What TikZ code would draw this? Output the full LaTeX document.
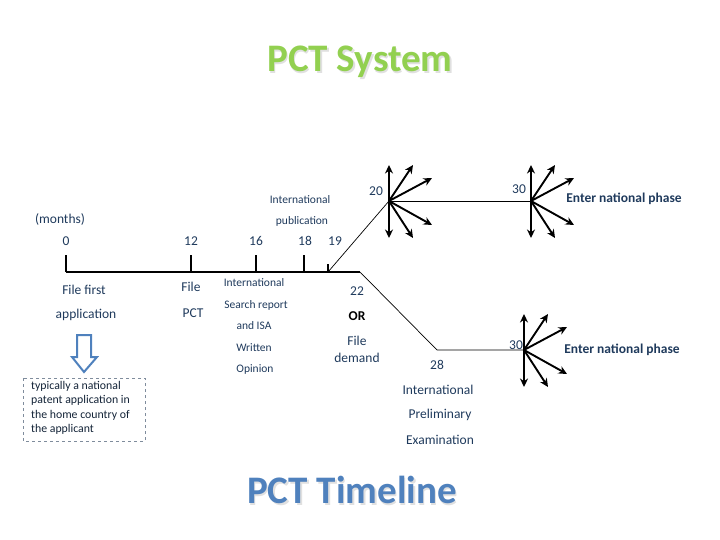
\documentclass[tikz,border=0pt]{standalone}
\usepackage{fontspec}
\setmainfont{Carlito}
\usetikzlibrary{arrows.meta}
\definecolor{txtblue}{HTML}{1F3A5C}
\definecolor{titlegreen}{HTML}{92D050}
\definecolor{linkblue}{HTML}{4F81BD}
\definecolor{boxgray}{HTML}{7F8C9C}
\begin{document}
\begin{tikzpicture}
    [
    x=1pt, y=-1pt
    , lbl/.style = {text=txtblue,inner sep=0pt,font=\fontsize{13.5}{15}\selectfont}
    , small/.style = {text=txtblue,inner sep=0pt,font=\fontsize{11.5}{13}\selectfont}
    , big/.style = {inner sep=0pt,font=\fontsize{39}{41}\selectfont\bfseries}
    , hubarrow/.style = {line width=1.9pt,-{Stealth[length=8.5pt,width=8pt]}}
    , axis/.style = {line width=1.3pt}
    , thin/.style = {line width=0.7pt}
    ]
\useasboundingbox (0,0) rectangle (720,540);

% titles
\node[big,text=black!12] at (361.5,63.5) {PCT System};
\node[big,text=titlegreen] (title) at (360,62) {PCT System};
\node[big,text=black!12] at (353.5,491.5) {PCT Timeline};
\node[big,text=linkblue] (subtitle) at (352,490) {PCT Timeline};

% time axis
\coordinate (t0) at (66,272);
\coordinate (t12) at (191,272);
\coordinate (t16) at (256,272);
\coordinate (t18) at (304,272);
\coordinate (t19) at (328,272);
\coordinate (tend) at (360,272);
\coordinate (bend) at (437,350);
\coordinate (hubA) at (389,201);
\coordinate (hubB) at (531,201);
\coordinate (hubC) at (524,350);

\draw[axis] (t0) -- (tend);
\foreach \t in {t0,t12,t16,t18} \draw[axis] (\t) -- ++(0,-17);
\draw[axis] (t19) -- ++(0,-8);
\draw[thin] (t19) -- (hubA);
\draw[thin] (hubA) -- (hubB);
\draw[thin] (tend) -- (bend) -- (hubC);

% national phase entries
\foreach \h in {hubA,hubB,hubC}
  \foreach \dx/\dy in {0/-36,24/-36,43/-23,43/24,24/37,0/37}
    \draw[hubarrow] (\h) -- ++(\dx,\dy);

\node[lbl] (months) at (60,219) {(months)};
\node[lbl] (m0) at (66,241) {0};
\node[lbl] (m12) at (191,241) {12};
\node[lbl] (m16) at (256,241) {16};
\node[lbl] (m18) at (305,241) {18};
\node[lbl] (m19) at (335,241) {19};
\node[lbl] (m20) at (376,191) {20};
\node[lbl] (m30a) at (519,189) {30};
\node[lbl] (m30b) at (516,345) {30};
\node[lbl] (m22) at (357,291) {22};
\node[lbl] (m28) at (437,365) {28};

\node[small] (pub1) at (300,200) {International};
\node[small] (pub2) at (302,221) {publication};

\node[lbl,font=\fontsize{13.5}{15}\selectfont\bfseries] (natA) at (624,199) {Enter national phase};
\node[lbl,font=\fontsize{13.5}{15}\selectfont\bfseries] (natC) at (622,350) {Enter national phase};

\node[lbl] (first1) at (84,290) {File first};
\node[lbl] (first2) at (86,315) {application};
\node[lbl] (pct1) at (191,287) {File};
\node[lbl] (pct2) at (193,313) {PCT};
\node[small] (isr1) at (254,283) {International};
\node[small] (isr2) at (256,305) {Search report};
\node[small] (isr3) at (254,326) {and ISA};
\node[small] (isr4) at (254,348) {Written};
\node[small] (isr5) at (255,369) {Opinion};
\node[lbl,text=black,font=\fontsize{13.5}{15}\selectfont\bfseries] (or) at (357,316) {OR};
\node[lbl] (dem1) at (357,341) {File};
\node[lbl] (dem2) at (357,358) {demand};
\node[lbl] (ipe1) at (438,390) {International};
\node[lbl] (ipe2) at (440,415) {Preliminary};
\node[lbl] (ipe3) at (440,440) {Examination};

% hollow arrow and note
\draw[linkblue,line width=2pt,fill=white,line join=miter]
  (77,335) -- (91,335) -- (91,357) -- (97,357) -- (84,372) -- (72,357) -- (77,357) -- cycle;
\draw[boxgray,dashed,line width=0.8pt] (23,378) rectangle (145,441);
\node[anchor=north west,inner sep=0pt,align=left,text=txtblue!60!black,
  font=\fontsize{11.8}{14.4}\selectfont] (note) at (31,381)
  {typically a national\\patent application in\\the home country of\\the applicant};
\end{tikzpicture}
\end{document}
